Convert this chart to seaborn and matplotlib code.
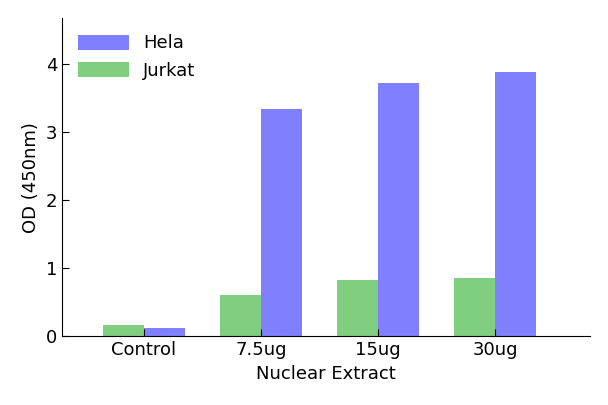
import matplotlib
matplotlib.use('Agg')
import matplotlib.pyplot as plt
import seaborn as sb
import pandas as pd

doses = ["Control", "7.5ug", "15ug", "30ug"]
hela = [0.12, 3.35, 3.72, 3.89]
jurkat = [0.17, 0.61, 0.83, 0.85]

df = pd.DataFrame({
    "dose": doses * 2,
    "od": jurkat + hela,
    "cell": ["Jurkat"] * 4 + ["Hela"] * 4,
})

fig = plt.figure(figsize=(6.08, 4.05), dpi=100)
ax = fig.add_axes([0.102, 0.170, 0.868, 0.785])
sb.barplot(data=df, x="dose", y="od", hue="cell", hue_order=["Jurkat", "Hela"],
           palette={"Jurkat": "#80cf80", "Hela": "#8080ff"}, width=0.7,
           saturation=1, ax=ax, edgecolor="none")
ax.set_xlim(-0.7, 3.81)
ax.set_ylim(0, 4.68)
ax.set_yticks([0, 1, 2, 3, 4])
ax.set_xlabel("Nuclear Extract", fontsize=13)
ax.set_ylabel("OD (450nm)", fontsize=13)
ax.tick_params(axis="both", labelsize=13, direction="in", length=5)
sb.despine(ax=ax)
h, l = ax.get_legend_handles_labels()
ax.legend(h[::-1], l[::-1], loc="upper left", frameon=False, fontsize=13,
          handlelength=2.8, handleheight=0.9)
fig.savefig("out.png", dpi=100)
